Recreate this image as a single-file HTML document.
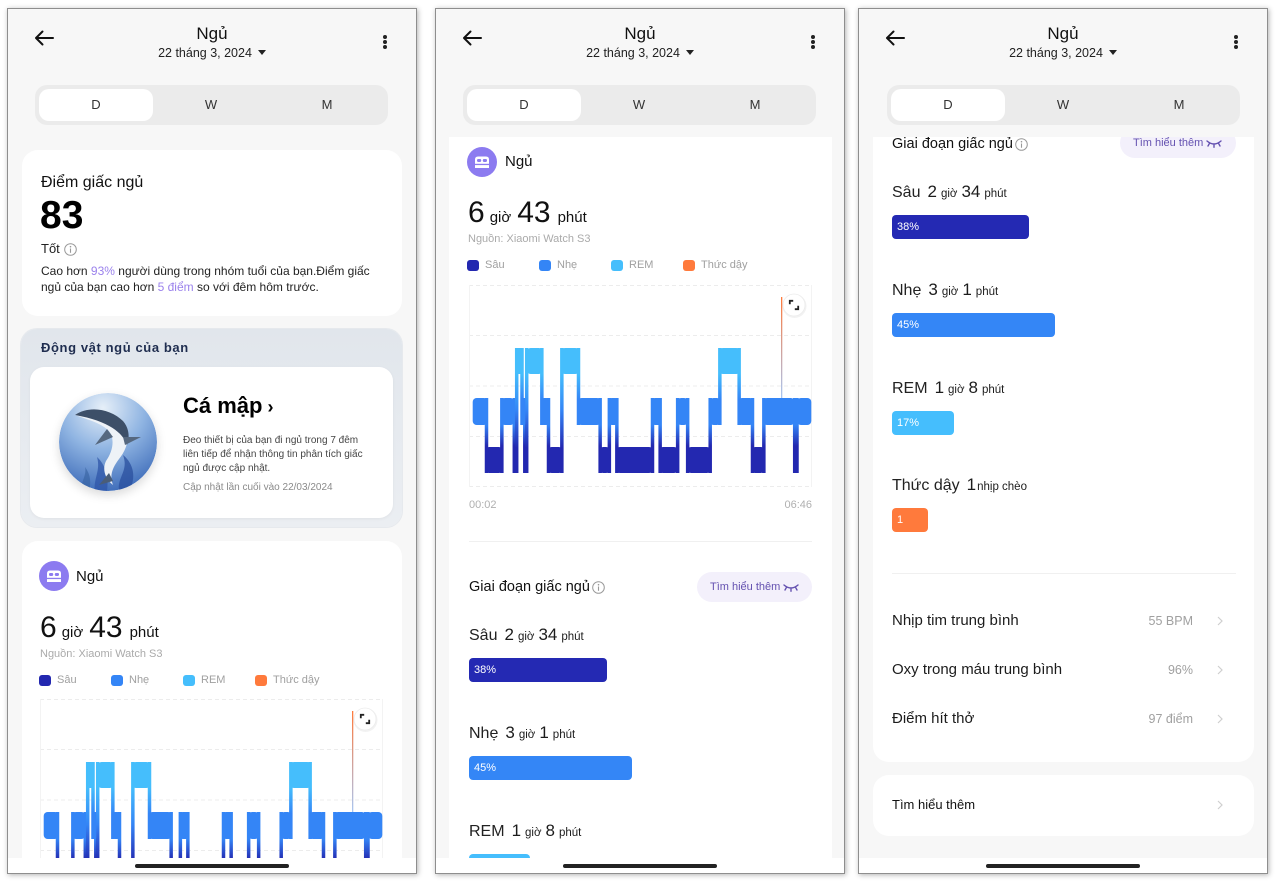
<!DOCTYPE html>
<html><head><meta charset="utf-8">
<style>
*{margin:0;padding:0;box-sizing:border-box}
html,body{width:1280px;height:884px}
body{background:#fff;position:relative;overflow:hidden;font-family:"Liberation Sans","Noto Sans CJK SC",sans-serif;color:#1c1c1c}
.ph{position:absolute;top:9px;width:408px;height:864px;background:#f7f7f7;box-shadow:0 0 0 1px #8e8e8e,1px 1px 5px 1px rgba(0,0,0,.3);overflow:hidden}
.a{position:absolute}
.ttl{left:0;width:408px;top:15px;height:20px;line-height:20px;text-align:center;font-size:17px;color:#111}
.date{left:0;width:408px;top:36px;height:16px;line-height:16px;text-align:center;font-size:12.5px;color:#222}
.date i{display:inline-block;width:0;height:0;border-left:4px solid transparent;border-right:4px solid transparent;border-top:5px solid #222;margin-left:6px;vertical-align:2px}
.dots{left:375px;top:26px;width:4px}
.dots b{display:block;width:4px;height:4px;border-radius:2px;background:#222;margin-bottom:1px}
.seg{left:27px;top:76px;width:353px;height:40px;background:#ebebeb;border-radius:12px}
.seg .on{position:absolute;left:4px;top:4px;width:114px;height:32px;background:#fff;border-radius:10px}
.seg span{position:absolute;top:0;height:40px;line-height:40px;width:118px;text-align:center;font-size:13px;color:#333}
.card{background:#fff;border-radius:16px}
.nav{left:0;top:849px;width:408px;height:15px;background:#fff}
.home{left:127px;top:855px;width:154px;height:4px;border-radius:2px;background:#222}
.nw{white-space:nowrap}
.tm{font-size:30px;line-height:30px;white-space:nowrap;color:#111}
.tm .u{font-size:15px;margin:0 6px 0 5px}
.tm .u2{font-size:15px;margin-left:7px}
.src{font-size:11px;line-height:14px;color:#aaa;white-space:nowrap}
.lg{width:12px;height:11px;border-radius:3px}
.lt{font-size:11px;line-height:14px;color:#a0a0a0;white-space:nowrap}
.st{font-size:17px;line-height:22px;white-space:nowrap;color:#1c1c1c}
.st .l{font-size:16px;margin-right:7px;color:#222}
.st .u{font-size:11.5px;margin:0 4px}
.bar{height:24px;border-radius:4px;color:#fff;font-size:11px;line-height:24px;padding-left:5px}
.pill{height:30px;border-radius:15px;background:#f3f0fb;color:#6451b0;font-size:11px;line-height:30px;padding-left:13px;white-space:nowrap}
.row{font-size:15px;line-height:20px;color:#1c1c1c;white-space:nowrap}
.val{font-size:12.5px;line-height:20px;color:#a0a0a0;text-align:right;white-space:nowrap}
.p{color:#9b82ec}
</style></head><body>

<svg width="0" height="0" style="position:absolute;left:0;top:0">
<defs>
<linearGradient id="gRL" x1="0" y1="0" x2="0" y2="1"><stop offset=".33" stop-color="#45befc"/><stop offset=".67" stop-color="#3485f6"/></linearGradient>
<linearGradient id="gLD" x1="0" y1="0" x2="0" y2="1"><stop offset=".36" stop-color="#3485f6"/><stop offset=".64" stop-color="#2328b0"/></linearGradient>
<linearGradient id="gRD" x1="0" y1="0" x2="0" y2="1"><stop offset=".2" stop-color="#45befc"/><stop offset=".5" stop-color="#3485f6"/><stop offset=".8" stop-color="#2328b0"/></linearGradient>
<linearGradient id="gAw" x1="0" y1="0" x2="0" y2="1"><stop offset="0" stop-color="#ff7a3c"/><stop offset="1" stop-color="#a8c6f2"/></linearGradient>
<symbol id="hyp" viewBox="0 0 343 202">
<g stroke="#ececec" stroke-width="1" stroke-dasharray="4 3" fill="none">
<line x1="0" y1="0.5" x2="343" y2="0.5"/>
<line x1="0" y1="50.5" x2="343" y2="50.5"/>
<line x1="0" y1="101" x2="343" y2="101"/>
<line x1="0" y1="151.5" x2="343" y2="151.5"/>
<line x1="0" y1="201.5" x2="343" y2="201.5"/>
</g>
<g stroke="#f3f3f3" stroke-width="1"><line x1="0.5" y1="0" x2="0.5" y2="202"/><line x1="342.5" y1="0" x2="342.5" y2="202"/></g>
<g>
<rect x="15.75" y="113" width="3.5" height="75" fill="url(#gLD)"/>
<rect x="31.1" y="113" width="3.5" height="75" fill="url(#gLD)"/>
<rect x="43.55" y="113" width="3.5" height="75" fill="url(#gLD)"/>
<rect x="45.95" y="63" width="3.5" height="125" fill="url(#gRD)"/>
<rect x="51.25" y="63" width="3.5" height="77" fill="url(#gRL)"/>
<rect x="54.05" y="113" width="3.5" height="75" fill="url(#gLD)"/>
<rect x="55.95" y="63" width="3.5" height="125" fill="url(#gRD)"/>
<rect x="71.1" y="63" width="3.5" height="77" fill="url(#gRL)"/>
<rect x="77.75" y="113" width="3.5" height="75" fill="url(#gLD)"/>
<rect x="91.1" y="63" width="3.5" height="125" fill="url(#gRD)"/>
<rect x="107.75" y="63" width="3.5" height="77" fill="url(#gRL)"/>
<rect x="129.4" y="113" width="3.5" height="75" fill="url(#gLD)"/>
<rect x="138.6" y="113" width="3.5" height="75" fill="url(#gLD)"/>
<rect x="146.1" y="113" width="3.5" height="75" fill="url(#gLD)"/>
<rect x="181.75" y="113" width="3.5" height="75" fill="url(#gLD)"/>
<rect x="189.4" y="113" width="3.5" height="75" fill="url(#gLD)"/>
<rect x="206.9" y="113" width="3.5" height="75" fill="url(#gLD)"/>
<rect x="216.9" y="113" width="3.5" height="75" fill="url(#gLD)"/>
<rect x="239.45" y="113" width="3.5" height="75" fill="url(#gLD)"/>
<rect x="249.1" y="63" width="3.5" height="77" fill="url(#gRL)"/>
<rect x="268.4" y="63" width="3.5" height="77" fill="url(#gRL)"/>
<rect x="281.75" y="113" width="3.5" height="75" fill="url(#gLD)"/>
<rect x="293.1" y="113" width="3.5" height="75" fill="url(#gLD)"/>
<rect x="323.95" y="113" width="3.5" height="75" fill="url(#gLD)"/>
<rect x="326.25" y="113" width="3.5" height="75" fill="url(#gLD)"/>
</g>
<g fill="#3485f6">
<rect x="3.7" y="113" width="15" height="27" rx="4"/>
<rect x="32" y="113" width="13.3" height="27" rx="4"/>
<rect x="53" y="113" width="3.3" height="27" rx="1"/>
<rect x="72" y="113" width="8.3" height="27" rx="3"/>
<rect x="108.7" y="113" width="23.3" height="27" rx="4"/>
<rect x="139.7" y="113" width="9" height="27" rx="3"/>
<rect x="183" y="113" width="9.3" height="27" rx="3"/>
<rect x="208.3" y="113" width="10.7" height="27" rx="4"/>
<rect x="240.7" y="113" width="11" height="27" rx="4"/>
<rect x="269" y="113" width="15.7" height="27" rx="4"/>
<rect x="294" y="113" width="31.7" height="27" rx="4"/>
<rect x="328" y="113" width="14.3" height="27" rx="4"/>
</g>
<g fill="#2328b0">
<rect x="16.3" y="162" width="17.4" height="26" rx="4"/>
<rect x="45.3" y="162" width="2.4" height="26" rx="1"/>
<rect x="55.3" y="162" width="2.4" height="26" rx="1"/>
<rect x="78.7" y="162" width="15" height="26" rx="4"/>
<rect x="130.3" y="162" width="10.7" height="26" rx="4"/>
<rect x="147" y="162" width="37" height="26" rx="4"/>
<rect x="190" y="162" width="19" height="26" rx="4"/>
<rect x="218.3" y="162" width="23.4" height="26" rx="4"/>
<rect x="282.3" y="162" width="13.4" height="26" rx="4"/>
<rect x="325.7" y="162" width="2.3" height="26" rx="1"/>
</g>
<g fill="#45befc">
<rect x="47.7" y="63" width="5.3" height="26" rx="2"/>
<rect x="57.7" y="63" width="16" height="26" rx="4"/>
<rect x="92" y="63" width="18.3" height="26" rx="4"/>
<rect x="250" y="63" width="21.3" height="26" rx="4"/>
</g>
<rect x="312" y="12" width="1.3" height="101" fill="url(#gAw)"/>
<circle cx="325.5" cy="21" r="12" fill="#000" opacity=".05"/>
<circle cx="325" cy="20" r="11" fill="#fff" stroke="#ececec" stroke-width=".8"/>
<path d="M320.8 19.2 V15.8 H324.2 M329.2 20.8 V24.2 H325.8" stroke="#222" stroke-width="1.8" fill="none"/>
</symbol>
<symbol id="bed" viewBox="0 0 30 30">
<circle cx="15" cy="15" r="15" fill="#8c7bf0"/>
<path d="M8 21 V12.5 Q8 9.5 11 9.5 H19 Q22 9.5 22 12.5 V21 Z" fill="#fff"/>
<rect x="10" y="12" width="4.2" height="3" rx="1.2" fill="#8c7bf0"/>
<rect x="15.8" y="12" width="4.2" height="3" rx="1.2" fill="#8c7bf0"/>
<rect x="8" y="16.8" width="14" height="1.3" fill="#8c7bf0"/>
</symbol>
</defs>
</svg>

<!-- ================= LEFT PHONE ================= -->
<div class="ph" style="left:8px">
  <svg class="a" style="left:26px;top:21px" width="20" height="16"><path d="M19 8 H2 M8.5 1.5 L2 8 L8.5 14.5" stroke="#111" stroke-width="2" fill="none" stroke-linecap="round" stroke-linejoin="round"/></svg>
  <div class="a ttl">Ngủ</div>
  <div class="a date">22 tháng 3, 2024<i></i></div>
  <div class="a dots"><b></b><b></b><b></b></div>
  <div class="a seg"><div class="on"></div><span style="left:2px">D</span><span style="left:117px">W</span><span style="left:233px">M</span></div>

  <div class="a card" style="left:14px;top:141px;width:380px;height:166px">
    <div class="a nw" style="left:19px;top:24px;font-size:16px;line-height:18px;color:#111">Điểm giấc ngủ</div>
    <div class="a nw" style="left:18px;top:46px;font-size:39px;line-height:40px;font-weight:bold;color:#000">83</div>
    <div class="a nw" style="left:19px;top:90px;font-size:13px;line-height:18px;color:#222">Tốt</div>
    <svg class="a" style="left:42px;top:93px" width="13" height="13"><circle cx="6.5" cy="6.5" r="5.8" stroke="#999" fill="none" stroke-width="1"/><line x1="6.5" y1="5.5" x2="6.5" y2="9.8" stroke="#999" stroke-width="1.1"/><circle cx="6.5" cy="3.7" r=".8" fill="#999"/></svg>
    <div class="a nw" style="left:19px;top:113px;font-size:12px;line-height:16px;color:#222">Cao hơn <span class="p">93%</span> người dùng trong nhóm tuổi của bạn.Điểm giấc<br>ngủ của bạn cao hơn <span class="p">5 điểm</span> so với đêm hôm trước.</div>
  </div>

  <div class="a" style="left:13px;top:320px;width:381px;height:198px;border-radius:16px;background:linear-gradient(#e1e6ec,#ebeef2);box-shadow:0 0 0 1px #e6e9ed">
    <div class="a nw" style="left:20px;top:11px;font-size:13px;line-height:16px;font-weight:bold;color:#1f2d4f;letter-spacing:.6px">Động vật ngủ của bạn</div>
    <div class="a card" style="left:9px;top:38px;width:363px;height:151px;border-radius:14px;box-shadow:0 1px 3px rgba(0,0,0,.05)">
      <div class="a" style="left:29px;top:26px;width:98px;height:98px;border-radius:50%;box-shadow:0 4px 10px rgba(0,0,0,.15);overflow:hidden">
        <svg width="98" height="98" viewBox="0 0 98 98">
          <defs><radialGradient id="sea" cx="0.45" cy="0.15" r="0.95"><stop offset="0" stop-color="#e6eff8"/><stop offset="0.45" stop-color="#8fb4e2"/><stop offset="1" stop-color="#2f5fb2"/></radialGradient></defs>
          <circle cx="49" cy="49" r="49" fill="url(#sea)"/>
          <path d="M36 98 C34 86 42 78 38 64 C47 72 50 86 48 98Z" fill="#2f56a8" opacity=".75"/>
          <path d="M60 98 C58 84 70 78 64 62 C74 70 78 84 70 98Z" fill="#2a4f9e" opacity=".75"/>
          <path d="M22 98 C22 88 28 82 26 74 C32 82 32 90 30 98Z" fill="#35609f" opacity=".6"/>
          <path d="M16 22 C30 12 52 16 64 28 C72 38 70 54 60 66 C54 74 50 82 54 92 C46 86 43 76 47 68 C54 58 56 46 50 38 C42 30 30 27 16 22Z" fill="#eef2f7"/>
          <path d="M16 22 C30 12 52 16 64 28 C70 35 71 44 68 52 C64 40 50 28 16 22Z" fill="#3d4f68"/>
          <path d="M48 36 L36 52 L54 44Z" fill="#56687f"/>
          <path d="M64 44 L82 44 L66 52Z" fill="#56687f"/>
          <path d="M50 80 L40 92 L54 88Z" fill="#4a5d78"/>
        </svg>
      </div>
      <div class="a nw" style="left:153px;top:26px;font-size:22px;line-height:26px;font-weight:bold;color:#000">Cá mập<span style="font-size:18px;margin-left:5px">›</span></div>
      <div class="a nw" style="left:153px;top:67px;font-size:10px;line-height:14px;color:#444">Đeo thiết bị của bạn đi ngủ trong 7 đêm<br>liên tiếp để nhận thông tin phân tích giấc<br>ngủ được cập nhật.</div>
      <div class="a nw" style="left:153px;top:114px;font-size:10px;line-height:14px;color:#8a8a8a">Cập nhật lần cuối vào 22/03/2024</div>
    </div>
  </div>

  <div class="a card" style="left:14px;top:532px;width:380px;height:340px">
    <svg class="a" style="left:17px;top:20px" width="30" height="30"><use href="#bed" width="30" height="30"/></svg>
    <div class="a nw" style="left:54px;top:27px;font-size:15px;line-height:18px;color:#111">Ngủ</div>
    <div class="a tm" style="left:18px;top:72px">6<span class="u">giờ</span>43<span class="u2">phút</span></div>
    <div class="a src" style="left:18px;top:106px">Nguồn: Xiaomi Watch S3</div>
    <div class="a lg" style="left:17px;top:134px;background:#2328b0"></div><div class="a lt" style="left:35px;top:132px">Sâu</div>
    <div class="a lg" style="left:89px;top:134px;background:#3485f6"></div><div class="a lt" style="left:107px;top:132px">Nhẹ</div>
    <div class="a lg" style="left:161px;top:134px;background:#45befc"></div><div class="a lt" style="left:179px;top:132px">REM</div>
    <div class="a lg" style="left:233px;top:134px;background:#ff7a3c"></div><div class="a lt" style="left:251px;top:132px">Thức dậy</div>
    <svg class="a" style="left:18px;top:158px" width="343" height="202"><use href="#hyp" width="343" height="202"/></svg>
  </div>
  <div class="a nav"></div>
  <div class="a home"></div>
</div>

<!-- ================= MIDDLE PHONE ================= -->
<div class="ph" style="left:436px">
  <svg class="a" style="left:26px;top:21px" width="20" height="16"><path d="M19 8 H2 M8.5 1.5 L2 8 L8.5 14.5" stroke="#111" stroke-width="2" fill="none" stroke-linecap="round" stroke-linejoin="round"/></svg>
  <div class="a ttl">Ngủ</div>
  <div class="a date">22 tháng 3, 2024<i></i></div>
  <div class="a dots"><b></b><b></b><b></b></div>
  <div class="a seg"><div class="on"></div><span style="left:2px">D</span><span style="left:117px">W</span><span style="left:233px">M</span></div>

  <div class="a" style="left:13px;top:128px;width:383px;height:736px;background:#fff">
    <svg class="a" style="left:18px;top:10px" width="30" height="30"><use href="#bed" width="30" height="30"/></svg>
    <div class="a nw" style="left:56px;top:16px;font-size:15px;line-height:18px;color:#111">Ngủ</div>
    <div class="a tm" style="left:19px;top:61px">6<span class="u">giờ</span>43<span class="u2">phút</span></div>
    <div class="a src" style="left:19px;top:95px">Nguồn: Xiaomi Watch S3</div>
    <div class="a lg" style="left:18px;top:123px;background:#2328b0"></div><div class="a lt" style="left:36px;top:121px">Sâu</div>
    <div class="a lg" style="left:90px;top:123px;background:#3485f6"></div><div class="a lt" style="left:108px;top:121px">Nhẹ</div>
    <div class="a lg" style="left:162px;top:123px;background:#45befc"></div><div class="a lt" style="left:180px;top:121px">REM</div>
    <div class="a lg" style="left:234px;top:123px;background:#ff7a3c"></div><div class="a lt" style="left:252px;top:121px">Thức dậy</div>
    <svg class="a" style="left:20px;top:148px" width="343" height="202"><use href="#hyp" width="343" height="202"/></svg>
    <div class="a lt" style="left:20px;top:361px;color:#b0b0b0">00:02</div>
    <div class="a lt" style="right:20px;top:361px;color:#b0b0b0">06:46</div>
    <div class="a" style="left:20px;top:404px;width:343px;height:1px;background:#f0f0f0"></div>
    <div class="a nw" style="left:20px;top:441px;font-size:14.5px;line-height:18px;color:#111">Giai đoạn giấc ngủ</div>
    <svg class="a" style="left:143px;top:444px" width="13" height="13"><circle cx="6.5" cy="6.5" r="5.8" stroke="#999" fill="none" stroke-width="1"/><line x1="6.5" y1="5.5" x2="6.5" y2="9.8" stroke="#999" stroke-width="1.1"/><circle cx="6.5" cy="3.7" r=".8" fill="#999"/></svg>
    <div class="a pill" style="left:248px;top:435px;width:115px">Tìm hiểu thêm<svg style="position:absolute;left:86px;top:11px" width="16" height="9"><path d="M1 2 Q8 8 15 2 M3.5 4.3 L2 7 M8 5.5 L8 8.3 M12.5 4.3 L14 7" stroke="#6451b0" stroke-width="1.4" fill="none" stroke-linecap="round"/></svg></div>
    <div class="a st" style="left:20px;top:487px"><span class="l">Sâu</span>2<span class="u">giờ</span>34<span class="u">phút</span></div>
    <div class="a bar" style="left:20px;top:521px;width:138px;background:#2429b3">38%</div>
    <div class="a st" style="left:20px;top:585px"><span class="l">Nhẹ</span>3<span class="u">giờ</span>1<span class="u">phút</span></div>
    <div class="a bar" style="left:20px;top:619px;width:163px;background:#3486f6">45%</div>
    <div class="a st" style="left:20px;top:683px"><span class="l">REM</span>1<span class="u">giờ</span>8<span class="u">phút</span></div>
    <div class="a bar" style="left:20px;top:717px;width:61px;background:#45befd">17%</div>
  </div>
  <div class="a nav"></div>
  <div class="a home"></div>
</div>

<!-- ================= RIGHT PHONE ================= -->
<div class="ph" style="left:859px">
  <svg class="a" style="left:26px;top:21px" width="20" height="16"><path d="M19 8 H2 M8.5 1.5 L2 8 L8.5 14.5" stroke="#111" stroke-width="2" fill="none" stroke-linecap="round" stroke-linejoin="round"/></svg>
  <div class="a ttl">Ngủ</div>
  <div class="a date">22 tháng 3, 2024<i></i></div>
  <div class="a dots"><b></b><b></b><b></b></div>
  <div class="a seg" style="left:28px"><div class="on"></div><span style="left:2px">D</span><span style="left:117px">W</span><span style="left:233px">M</span></div>

  <div class="a" style="left:14px;top:128px;width:381px;height:625px;background:#fff;border-radius:0 0 16px 16px;overflow:hidden">
    <div class="a nw" style="left:19px;top:-2px;font-size:14.5px;line-height:18px;color:#111">Giai đoạn giấc ngủ</div>
    <svg class="a" style="left:142px;top:1px" width="13" height="13"><circle cx="6.5" cy="6.5" r="5.8" stroke="#999" fill="none" stroke-width="1"/><line x1="6.5" y1="5.5" x2="6.5" y2="9.8" stroke="#999" stroke-width="1.1"/><circle cx="6.5" cy="3.7" r=".8" fill="#999"/></svg>
    <div class="a pill" style="left:247px;top:-9px;width:116px">Tìm hiểu thêm<svg style="position:absolute;left:86px;top:11px" width="16" height="9"><path d="M1 2 Q8 8 15 2 M3.5 4.3 L2 7 M8 5.5 L8 8.3 M12.5 4.3 L14 7" stroke="#6451b0" stroke-width="1.4" fill="none" stroke-linecap="round"/></svg></div>
    <div class="a st" style="left:19px;top:44px"><span class="l">Sâu</span>2<span class="u">giờ</span>34<span class="u">phút</span></div>
    <div class="a bar" style="left:19px;top:78px;width:137px;background:#2429b3">38%</div>
    <div class="a st" style="left:19px;top:142px"><span class="l">Nhẹ</span>3<span class="u">giờ</span>1<span class="u">phút</span></div>
    <div class="a bar" style="left:19px;top:176px;width:163px;background:#3486f6">45%</div>
    <div class="a st" style="left:19px;top:240px"><span class="l">REM</span>1<span class="u">giờ</span>8<span class="u">phút</span></div>
    <div class="a bar" style="left:19px;top:274px;width:62px;background:#45befd">17%</div>
    <div class="a st" style="left:19px;top:337px"><span class="l">Thức dậy</span>1<span class="u" style="margin-left:1px">nhịp chèo</span></div>
    <div class="a bar" style="left:19px;top:371px;width:36px;background:#ff7a3c">1</div>
    <div class="a" style="left:19px;top:436px;width:344px;height:1px;background:#f0f0f0"></div>
    <div class="a row" style="left:19px;top:474px">Nhịp tim trung bình</div>
    <div class="a val" style="right:61px;top:474px">55 BPM</div>
    <svg class="a" style="left:344px;top:479px" width="6" height="10"><path d="M1 1 L5 5 L1 9" stroke="#cfcfcf" stroke-width="1.2" fill="none"/></svg>
    <div class="a row" style="left:19px;top:523px">Oxy trong máu trung bình</div>
    <div class="a val" style="right:61px;top:523px">96%</div>
    <svg class="a" style="left:344px;top:528px" width="6" height="10"><path d="M1 1 L5 5 L1 9" stroke="#cfcfcf" stroke-width="1.2" fill="none"/></svg>
    <div class="a row" style="left:19px;top:572px">Điểm hít thở</div>
    <div class="a val" style="right:61px;top:572px">97 điểm</div>
    <svg class="a" style="left:344px;top:577px" width="6" height="10"><path d="M1 1 L5 5 L1 9" stroke="#cfcfcf" stroke-width="1.2" fill="none"/></svg>
  </div>

  <div class="a card" style="left:14px;top:766px;width:381px;height:61px">
    <div class="a nw" style="left:19px;top:20px;font-size:13px;line-height:20px;color:#111">Tìm hiểu thêm</div>
    <svg class="a" style="left:344px;top:25px" width="6" height="10"><path d="M1 1 L5 5 L1 9" stroke="#cfcfcf" stroke-width="1.2" fill="none"/></svg>
  </div>
  <div class="a nav"></div>
  <div class="a home"></div>
</div>

</body></html>
